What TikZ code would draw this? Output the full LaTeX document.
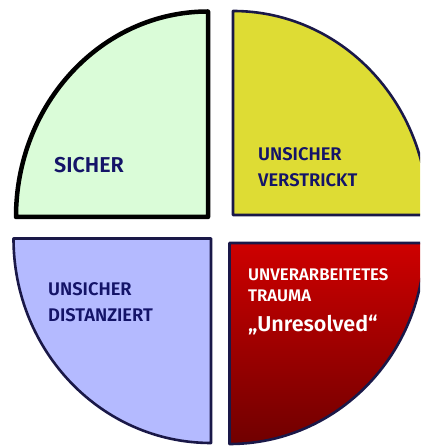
\documentclass[tikz,border=0pt]{standalone}
\usepackage{fontspec}
\setmainfont{Fira Sans}[BoldFont={Fira Sans SemiBold}]
\usepackage{xcolor}
\usetikzlibrary{shadows}
\definecolor{sichercolor}{RGB}{218, 252, 216}
\definecolor{verstricktcolor}{RGB}{222, 220, 52}
\definecolor{distanziertcolor}{RGB}{180, 186, 255}
\definecolor{traumatopcolor}{RGB}{206, 0, 0}
\definecolor{traumabottomcolor}{RGB}{112, 0, 0}
\definecolor{rimcolor}{RGB}{26, 24, 72}
\definecolor{labelcolor}{RGB}{20, 20, 104}

\tikzset{
    quarter/.style={draw=rimcolor, line width=2.6pt, line join=round},
    label text/.style={anchor=base west, inner sep=0pt, text=labelcolor, font=\bfseries\fontsize{18.3}{20}\selectfont},
    trauma text/.style={anchor=base west, inner sep=0pt, text=white, font=\bfseries\fontsize{16.8}{18}\selectfont}
}

\begin{document}
\begin{tikzpicture}[x=1pt, y=1pt]
\clip (0,0) rectangle (420,446);
% the four quarters
\draw[quarter, draw=black, line width=4.5pt, fill=sichercolor,
      drop shadow={opacity=0.4, shadow xshift=1pt, shadow yshift=-1pt}]
    (208,229) -- ++(-192,0) arc[start angle=180, end angle=90, x radius=192, y radius=205.5] -- cycle;
\draw[quarter, fill=verstricktcolor]
    (233,231) -- ++(0,204) arc[start angle=90, end angle=0, x radius=195, y radius=204] -- cycle;
\draw[quarter, fill=distanziertcolor]
    (211,207.5) -- ++(-197.5,0) arc[start angle=180, end angle=270, x radius=197.5, y radius=204.5] -- cycle;
\draw[quarter, top color=traumatopcolor, bottom color=traumabottomcolor]
    (229.5,203) -- ++(0,-201) arc[start angle=270, end angle=360, x radius=195, y radius=201] -- cycle;
% labels
\node[label text, font=\bfseries\fontsize{21.5}{23}\selectfont] (sicher) at (54,273) {SICHER};
\node[label text] (verstrickt1) at (258,285) {UNSICHER};
\node[label text] (verstrickt2) at (258,259) {VERSTRICKT};
\node[label text] (distanziert1) at (48,150) {UNSICHER};
\node[label text] (distanziert2) at (48,124) {DISTANZIERT};
\node[trauma text] (trauma1) at (248,165) {UNVERARBEITETES};
\node[trauma text] (trauma2) at (248,144) {TRAUMA};
\node[trauma text, font=\bfseries\fontsize{21.5}{23}\selectfont] (unresolved) at (248,114) {„Unresolved“};
\end{tikzpicture}
\end{document}
